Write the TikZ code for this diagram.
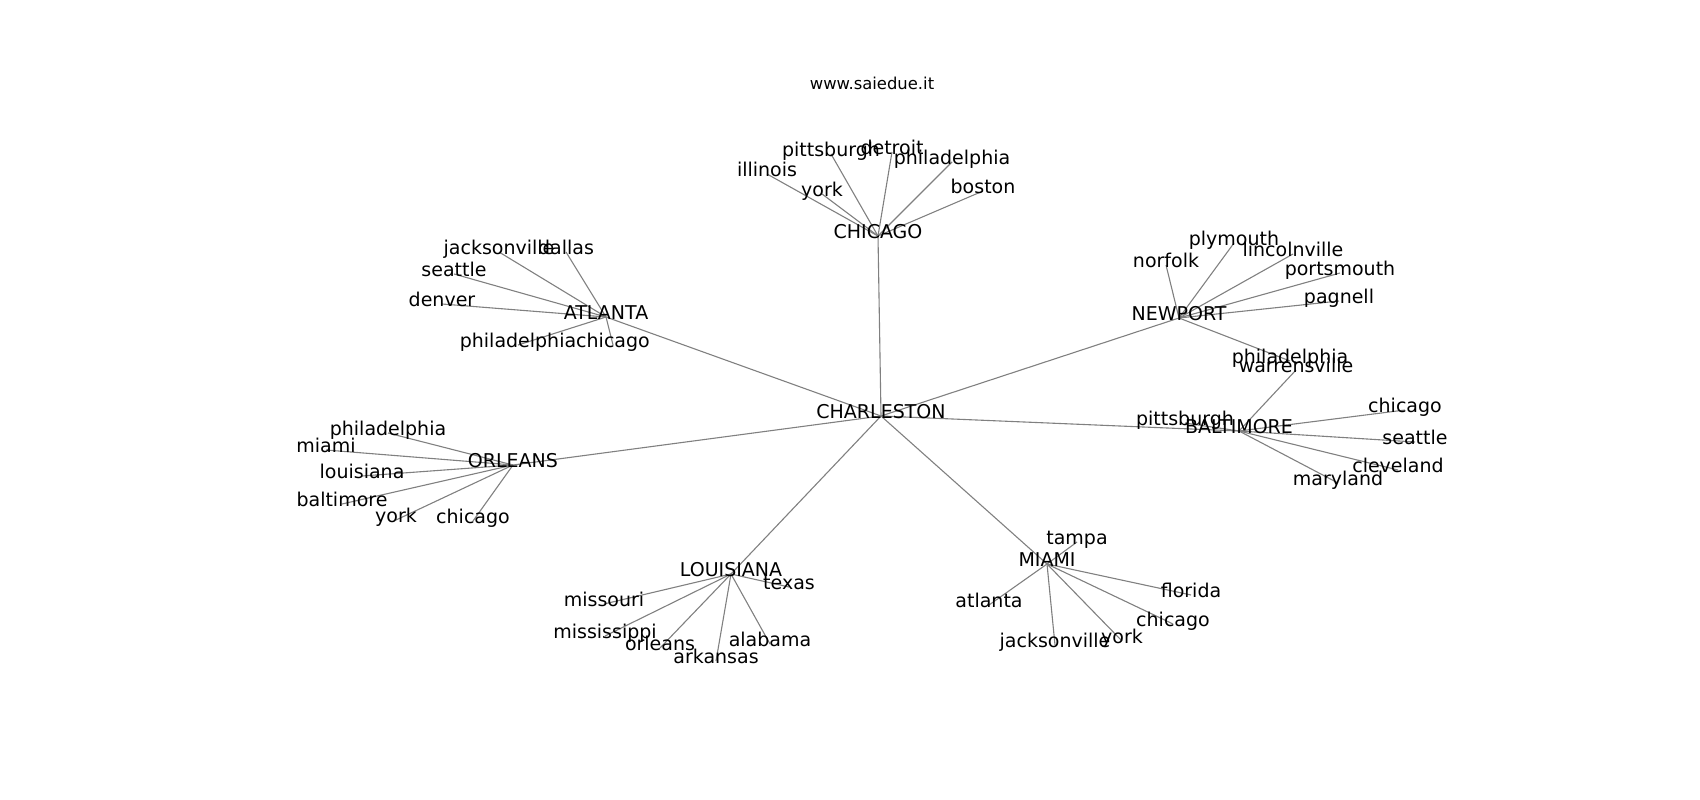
\documentclass[tikz,border=0pt]{standalone}
\usepackage{fontspec}
\setmainfont{DejaVu Sans}
\usetikzlibrary{backgrounds}
\tikzset{
  lbl/.style={font=\fontsize{19}{21}\selectfont, inner sep=0pt, text height=0.76em, text depth=0.208em, anchor=center},
  ttl/.style={font=\fontsize{16.4}{18}\selectfont, inner sep=0pt, text height=0.76em, text depth=0.208em, anchor=center},
  edge/.style={draw=black!50, line width=1.1pt}
}
\begin{document}
\begin{tikzpicture}[x=1pt,y=-1pt]
\useasboundingbox (0,0) rectangle (1700,800);
\begin{scope}[yshift=-3pt]
\node[ttl] (title) at (872,84) {www.saiedue.it};
% hubs
\node[lbl] (charleston) at (881,413) {CHARLESTON};
\node[lbl] (chicagoH) at (878,233) {CHICAGO};
\node[lbl] (atlantaH) at (606,314) {ATLANTA};
\node[lbl] (newportH) at (1179,315) {NEWPORT};
\node[lbl] (baltimoreH) at (1239,428) {BALTIMORE};
\node[lbl] (orleansH) at (513,462) {ORLEANS};
\node[lbl] (louisianaH) at (731,571) {LOUISIANA};
\node[lbl] (miamiH) at (1047,561) {MIAMI};
% chicago leaves
\node[lbl] (c1) at (767,171) {illinois};
\node[lbl] (c2) at (822,191) {york};
\node[lbl] (c3) at (831,151) {pittsburgh};
\node[lbl] (c4) at (892,149) {detroit};
\node[lbl] (c5) at (952,159) {philadelphia};
\node[lbl] (c6) at (983,188) {boston};
% atlanta leaves
\node[lbl] (a1) at (499,249) {jacksonville};
\node[lbl] (a2) at (566,249) {dallas};
\node[lbl] (a3) at (454,271) {seattle};
\node[lbl] (a4) at (442,301) {denver};
\node[lbl] (a5) at (518,342) {philadelphia};
\node[lbl] (a6) at (613,342) {chicago};
% newport leaves
\node[lbl] (n1) at (1166,262) {norfolk};
\node[lbl] (n2) at (1234,240) {plymouth};
\node[lbl] (n3) at (1293,251) {lincolnville};
\node[lbl] (n4) at (1340,270) {portsmouth};
\node[lbl] (n5) at (1339,298) {pagnell};
\node[lbl] (n6) at (1290,358) {philadelphia};
% baltimore leaves
\node[lbl] (b1) at (1296,367) {warrensville};
\node[lbl] (b2) at (1185,420) {pittsburgh};
\node[lbl] (b3) at (1405,407) {chicago};
\node[lbl] (b4) at (1415,439) {seattle};
\node[lbl] (b5) at (1398,467) {cleveland};
\node[lbl] (b6) at (1338,480) {maryland};
% orleans leaves
\node[lbl] (o1) at (388,430) {philadelphia};
\node[lbl] (o2) at (326,447) {miami};
\node[lbl] (o3) at (362,473) {louisiana};
\node[lbl] (o4) at (342,501) {baltimore};
\node[lbl] (o5) at (396,517) {york};
\node[lbl] (o6) at (473,518) {chicago};
% louisiana leaves
\node[lbl] (l1) at (789,584) {texas};
\node[lbl] (l2) at (604,601) {missouri};
\node[lbl] (l3) at (605,633) {mississippi};
\node[lbl] (l4) at (660,645) {orleans};
\node[lbl] (l5) at (716,658) {arkansas};
\node[lbl] (l6) at (770,641) {alabama};
% miami leaves
\node[lbl] (m1) at (1077,539) {tampa};
\node[lbl] (m2) at (1191,592) {florida};
\node[lbl] (m3) at (1173,621) {chicago};
\node[lbl] (m4) at (1122,638) {york};
\node[lbl] (m5) at (1055,642) {jacksonville};
\node[lbl] (m6) at (989,602) {atlanta};
\end{scope}
\begin{scope}[on background layer]
\foreach \h in {chicagoH,atlantaH,newportH,baltimoreH,orleansH,louisianaH,miamiH}
  \draw[edge] (charleston.center) -- (\h.center);
\foreach \h/\p in {chicagoH/c,atlantaH/a,newportH/n,baltimoreH/b,orleansH/o,louisianaH/l,miamiH/m}
  \foreach \i in {1,...,6}
    \draw[edge] (\h.center) -- (\p\i.center);
\end{scope}
\end{tikzpicture}
\end{document}
